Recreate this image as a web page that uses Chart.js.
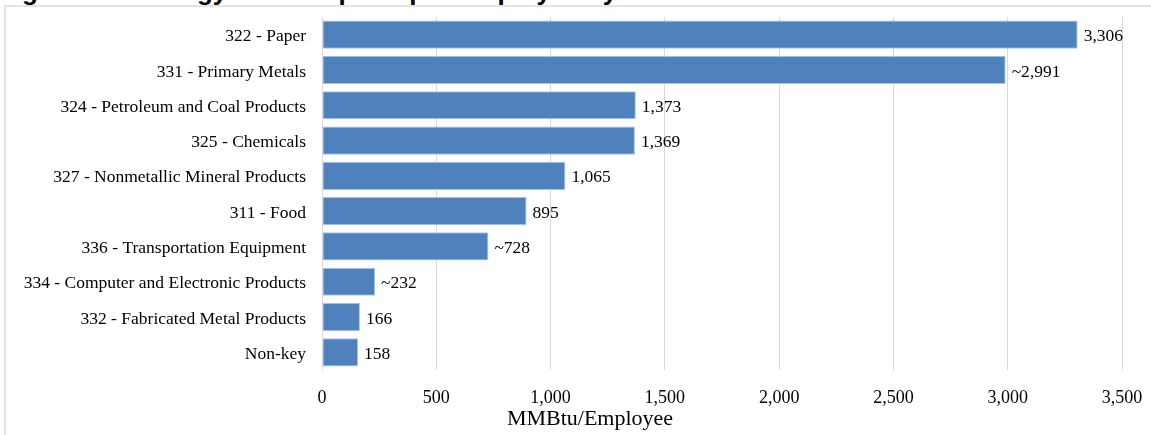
<!DOCTYPE html>
<html>
<head>
<meta charset="utf-8">
<script src="https://cdn.jsdelivr.net/npm/chart.js@4/dist/chart.umd.min.js"></script>
<style>
  html, body { margin: 0; padding: 0; background: #fff; overflow: hidden; }
  #wrap { position: relative; width: 1151px; height: 435px; }
  #frame { position: absolute; left: 4px; top: 5px; width: 1200px; height: 500px; border: 2px solid #e4e4e4; box-sizing: border-box; }
  #title { position: absolute; left: -1px; top: -24px; font: bold 26px "Liberation Sans", Arial, sans-serif; line-height: 30px; color: #000; white-space: nowrap; }
  canvas { position: absolute; left: 0; top: 0; }
</style>
</head>
<body>
<div id="wrap">
  <div id="frame"></div>
  <div id="title">Figure 3-8: Energy Consumption per Employee by Subsector</div>
  <canvas id="c" width="1151" height="435"></canvas>
</div>
<script>
const categories = [
  "322 - Paper",
  "331 - Primary Metals",
  "324 - Petroleum and Coal Products",
  "325 - Chemicals",
  "327 - Nonmetallic Mineral Products",
  "311 - Food",
  "336 - Transportation Equipment",
  "334 - Computer and Electronic Products",
  "332 - Fabricated Metal Products",
  "Non-key"
];
const values = [3306, 2991, 1373, 1369, 1065, 895, 728, 232, 166, 158];
const valueLabels = ["3,306", "~2,991", "1,373", "1,369", "1,065", "895", "~728", "~232", "166", "158"];
const xMin = 0, xMax = 3500, xStep = 500;
const axisTitle = "MMBtu/Employee";

const serif = '"Liberation Serif", "Times New Roman", serif';

const valueLabelPlugin = {
  id: 'valueLabels',
  afterDatasetsDraw(chart) {
    const ctx = chart.ctx;
    const meta = chart.getDatasetMeta(0);
    ctx.save();
    ctx.font = '17.5px ' + serif;
    ctx.fillStyle = '#000';
    ctx.textAlign = 'left';
    ctx.textBaseline = 'middle';
    meta.data.forEach((bar, i) => {
      ctx.fillText(valueLabels[i], bar.x + 6, bar.y + 2);
    });
    ctx.restore();
  }
};

const axisTitlePlugin = {
  id: 'axisTitle',
  afterDraw(chart) {
    const ctx = chart.ctx;
    ctx.save();
    ctx.font = '22px ' + serif;
    ctx.fillStyle = '#000';
    ctx.textAlign = 'center';
    ctx.textBaseline = 'alphabetic';
    ctx.fillText(axisTitle, 590, 425);
    ctx.restore();
  }
};

new Chart(document.getElementById('c'), {
  type: 'bar',
  data: {
    labels: categories,
    datasets: [{
      data: values,
      backgroundColor: '#4f81bd',
      borderColor: '#a9c3e3',
      borderWidth: 1,
      borderSkipped: false,
      barPercentage: 0.8,
      categoryPercentage: 1.0
    }]
  },
  options: {
    indexAxis: 'y',
    responsive: false,
    animation: false,
    events: [],
    layout: { padding: { left: 0, top: 17, right: 29, bottom: 0 } },
    plugins: { legend: { display: false }, tooltip: { enabled: false }, title: { display: false } },
    scales: {
      x: {
        min: xMin, max: xMax,
        ticks: {
          stepSize: xStep,
          color: '#000',
          font: { family: serif, size: 18 },
          padding: 17,
          maxRotation: 0,
          callback: v => v.toLocaleString('en-US')
        },
        grid: { color: '#d9d9d9', lineWidth: 1, drawTicks: false },
        border: { display: false },
        title: { display: false },
        afterFit(s) { s.height = 65; s.paddingLeft = 0; s.paddingRight = 0; }
      },
      y: {
        ticks: {
          color: '#000',
          font: { family: serif, size: 17.5 },
          padding: 16,
          labelOffset: 2
        },
        grid: { display: false, drawTicks: false },
        border: { display: false },
        afterFit(s) { s.width = 322; s.paddingTop = 0; s.paddingBottom = 0; }
      }
    }
  },
  plugins: [valueLabelPlugin, axisTitlePlugin]
});
</script>
</body>
</html>
